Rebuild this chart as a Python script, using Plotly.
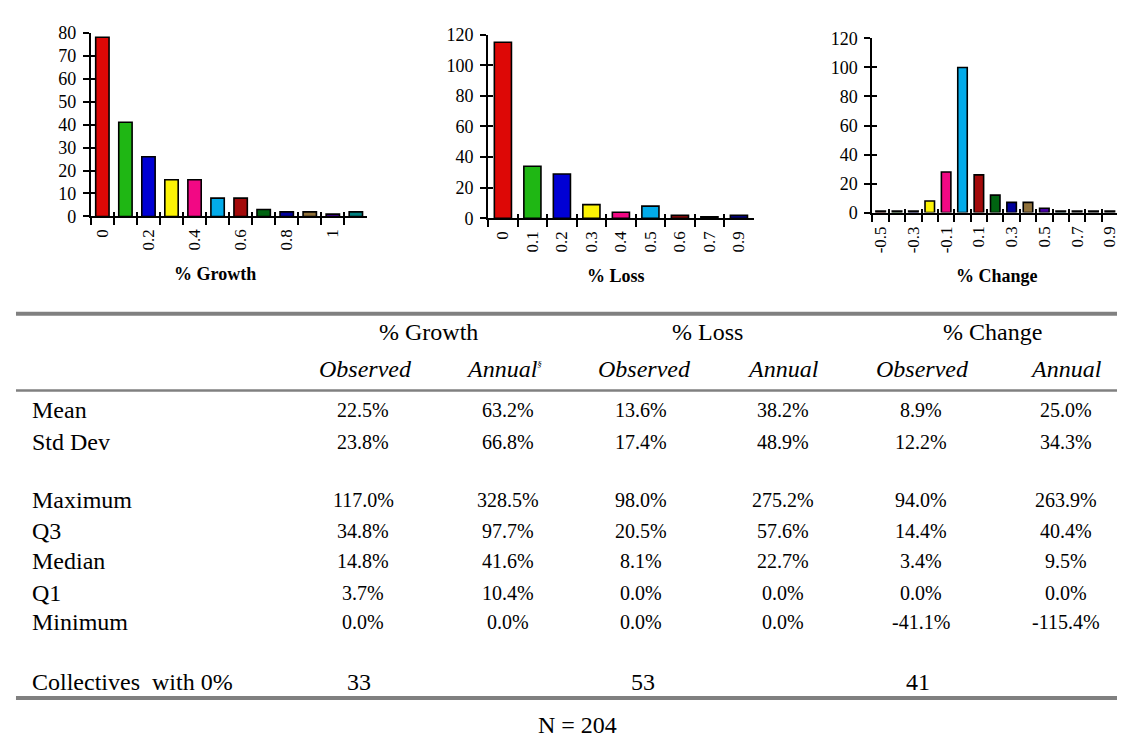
import plotly.graph_objects as go

W, H = 1125, 738
SERIF = "Liberation Serif, Times New Roman, serif"

# ---------------- data ----------------
growth_cats = ["0", "0.1", "0.2", "0.3", "0.4", "0.5", "0.6", "0.7", "0.8", "0.9", "1", "1.1"]
growth_counts = [78, 41, 26, 16, 16, 8, 8, 3, 2, 2, 1, 2]
growth_ticktext = ["0", "", "0.2", "", "0.4", "", "0.6", "", "0.8", "", "1", ""]

loss_cats = ["0", "0.1", "0.2", "0.3", "0.4", "0.5", "0.6", "0.7", "0.9"]
loss_counts = [115, 34, 29, 9, 4, 8, 2, 1, 2]
loss_ticktext = ["0", "0.1", "0.2", "0.3", "0.4", "0.5", "0.6", "0.7", "0.9"]

change_cats = ["-0.5", "-0.4", "-0.3", "-0.2", "-0.1", "0", "0.1", "0.2", "0.3",
               "0.4", "0.5", "0.6", "0.7", "0.8", "0.9"]
change_counts = [1, 1, 1, 8, 28, 100, 26, 12, 7, 7, 3, 1, 1, 1, 1]
change_ticktext = ["-0.5", "", "-0.3", "", "-0.1", "", "0.1", "", "0.3", "", "0.5", "", "0.7", "", "0.9"]

chart_titles = ["% Growth", "% Loss", "% Change"]
y_max = [80, 120, 120]
y_step = [10, 20, 20]

# table
group_headers = ["% Growth", "% Loss", "% Change"]
sub_headers = ["Observed", "Annual<sup><span style='font-size:9px'>§</span></sup>",
               "Observed", "Annual", "Observed", "Annual"]
row_labels = ["Mean", "Std Dev", "Maximum", "Q3", "Median", "Q1", "Minimum"]
growth_obs = [22.5, 23.8, 117.0, 34.8, 14.8, 3.7, 0.0]
growth_ann = [63.2, 66.8, 328.5, 97.7, 41.6, 10.4, 0.0]
loss_obs = [13.6, 17.4, 98.0, 20.5, 8.1, 0.0, 0.0]
loss_ann = [38.2, 48.9, 275.2, 57.6, 22.7, 0.0, 0.0]
change_obs = [8.9, 12.2, 94.0, 14.4, 3.4, 0.0, -41.1]
change_ann = [25.0, 34.3, 263.9, 40.4, 9.5, 0.0, -115.4]
zero_label = "Collectives  with 0%"
zero_counts = [33, 53, 41]
n_label = "N = 204"

# ---------------- styling ----------------
palette = ["#DD0806", "#1FB714", "#0000D4", "#FCF305", "#F20884", "#02ABEA",
           "#A30A0A", "#006411", "#00009C", "#90713A", "#4600A5", "#008080",
           "#808080", "#808080", "#808080"]

# pixel layout of the three histograms: (left, right, top, bottom)
boxes = [(82, 359, 15, 204), (480, 746, 17, 206), (865, 1111, 21, 200)]
title_pos = [(206, 263), (608, 265), (990, 265)]
label_standoff = [4, 4, 5]


def px_x(v):
    return v / W


def px_y(v):
    return 1 - v / H


fig = go.Figure()
charts = [(growth_cats, growth_counts, growth_ticktext),
          (loss_cats, loss_counts, loss_ticktext),
          (change_cats, change_counts, change_ticktext)]

layout = dict(width=W, height=H, margin=dict(l=0, r=0, t=0, b=0),
              paper_bgcolor="white", plot_bgcolor="rgba(0,0,0,0)",
              showlegend=False, bargap=0.42,
              font=dict(family=SERIF, color="black"))

for k, (cats, counts, ttext) in enumerate(charts, start=1):
    n = len(cats)
    colors = [palette[i] for i in range(n)]
    xa, ya = f"x{k}", f"y{k}"
    xo, yo = f"x{k+3}", f"y{k+3}"
    fig.add_trace(go.Bar(
        x=cats, y=counts, xaxis=xa, yaxis=ya,
        marker=dict(color=colors, line=dict(color="black", width=1.6)),
        hoverinfo="x+y"))
    # invisible helper trace that registers the overlay (inside-tick) axes
    fig.add_trace(go.Scatter(x=cats, y=[None] * n, xaxis=xo, yaxis=yo,
                             mode="markers", hoverinfo="skip"))
    L, R, T, B = boxes[k - 1]
    xdom = [px_x(L), px_x(R)]
    ydom = [px_y(B), px_y(T)]
    key = "" if k == 1 else str(k)
    layout[f"xaxis{key}"] = dict(
        domain=xdom, anchor=ya, type="category", categoryorder="array",
        categoryarray=cats, range=[-0.5, n - 0.5],
        tickmode="array", tickvals=cats, ticktext=ttext, tickson="boundaries",
        ticks="outside", ticklen=7, tickwidth=2, tickcolor="black",
        tickangle=-90, tickfont=dict(family=SERIF, size=17, color="black"),
        ticklabelstandoff=label_standoff[k - 1], ticklabeloverflow="allow",
        showline=True, linecolor="black", linewidth=2, showgrid=False, zeroline=False,
        fixedrange=True)
    layout[f"yaxis{key}"] = dict(
        domain=ydom, anchor=xa, range=[0, y_max[k - 1]], dtick=y_step[k - 1], tick0=0,
        ticks="outside", ticklen=6, tickwidth=2, tickcolor="black",
        tickfont=dict(family=SERIF, size=18, color="black"), ticklabelstandoff=3,
        showline=True, linecolor="black", linewidth=2, showgrid=False, zeroline=False,
        fixedrange=True)
    layout[f"xaxis{k+3}"] = dict(
        overlaying=xa, anchor=ya, type="category", categoryorder="array",
        categoryarray=cats, range=[-0.5, n - 0.5],
        tickmode="array", tickvals=cats, ticktext=[" "] * n, tickson="boundaries",
        ticks="inside", ticklen=4, tickwidth=2, tickcolor="black",
        showticklabels=False, showline=False, showgrid=False, zeroline=False,
        fixedrange=True)
    layout[f"yaxis{k+3}"] = dict(
        overlaying=ya, anchor=xa, side="left", range=[0, y_max[k - 1]],
        dtick=y_step[k - 1], tick0=0,
        ticks="inside", ticklen=5, tickwidth=2, tickcolor="black",
        showticklabels=False, showline=False, showgrid=False, zeroline=False,
        fixedrange=True)

annotations = []
for t, (cx, cy) in zip(chart_titles, title_pos):
    annotations.append(dict(text=f"<b>{t}</b>", x=px_x(cx), y=px_y(cy), xref="paper", yref="paper",
                            showarrow=False, xanchor="center", yanchor="middle",
                            font=dict(family=SERIF, size=18, color="black")))

# ---------------- table ----------------
TXT = 24
VAL = 20
for t, cx in zip(group_headers, [420, 700, 985]):
    annotations.append(dict(text=t, x=px_x(cx), y=px_y(323), xref="paper", yref="paper",
                            showarrow=False, xanchor="center", yanchor="middle",
                            font=dict(family=SERIF, size=TXT, color="black")))
for t, cx in zip(sub_headers, [357, 496, 637, 775, 915, 1059]):
    annotations.append(dict(text=f"<i>{t}</i>", x=px_x(cx), y=px_y(361), xref="paper", yref="paper",
                            showarrow=False, xanchor="center", yanchor="middle",
                            font=dict(family=SERIF, size=TXT, color="black")))

row_y = [403, 436, 495, 527, 558, 591, 621]
for lbl, ry in zip(row_labels, row_y):
    annotations.append(dict(text=lbl, x=px_x(21), y=px_y(ry), xref="paper", yref="paper",
                            showarrow=False, xanchor="left", yanchor="middle",
                            font=dict(family=SERIF, size=TXT, color="black")))

columns = [growth_obs, growth_ann, loss_obs, loss_ann, change_obs, change_ann]
col_x = [355, 500, 633, 775, 914, 1059]
for col, cx in zip(columns, col_x):
    for v, ry in zip(col, row_y):
        annotations.append(dict(text=f"{v:.1f}%", x=px_x(cx), y=px_y(ry), xref="paper", yref="paper",
                                showarrow=False, xanchor="center", yanchor="middle",
                                font=dict(family=SERIF, size=VAL, color="black")))

annotations.append(dict(text=zero_label, x=px_x(21), y=px_y(683), xref="paper", yref="paper",
                        showarrow=False, xanchor="left", yanchor="middle",
                        font=dict(family=SERIF, size=TXT, color="black")))
for v, cx in zip(zero_counts, [351, 635, 911]):
    annotations.append(dict(text=str(v), x=px_x(cx), y=px_y(683), xref="paper", yref="paper",
                            showarrow=False, xanchor="center", yanchor="middle",
                            font=dict(family=SERIF, size=TXT, color="black")))
annotations.append(dict(text=n_label, x=px_x(570), y=px_y(727), xref="paper", yref="paper",
                        showarrow=False, xanchor="center", yanchor="middle",
                        font=dict(family=SERIF, size=TXT, color="black")))

rules = [(304, 4), (383, 2.5), (699, 4)]
shapes = []
for ry, w in rules:
    shapes.append(dict(type="line", xref="paper", yref="paper", x0=px_x(7), x1=1,
                       y0=px_y(ry), y1=px_y(ry), line=dict(color="#808080", width=w)))

layout["annotations"] = annotations
layout["shapes"] = shapes
fig.update_layout(**layout)

fig.write_html("out.html")
